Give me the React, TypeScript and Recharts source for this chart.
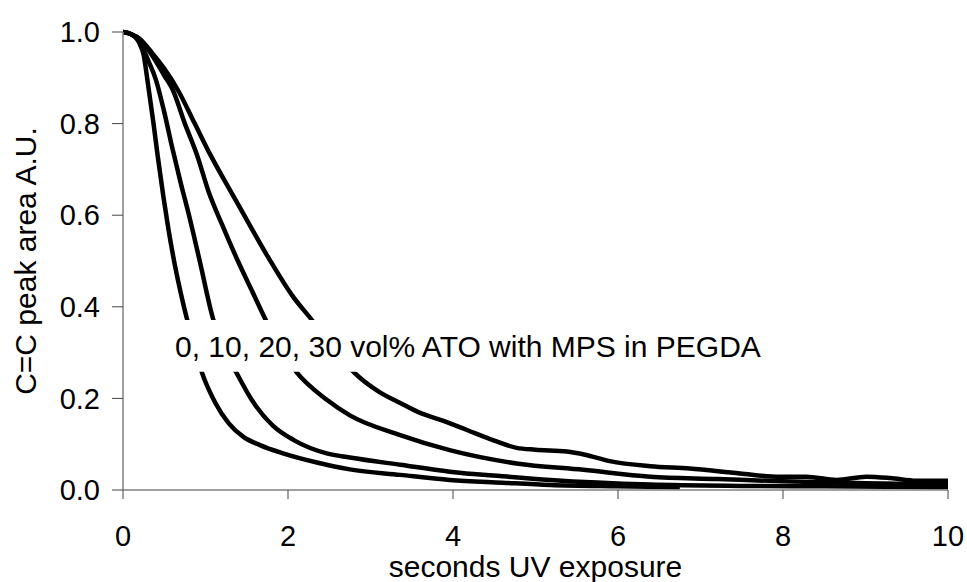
import { LineChart, Line, XAxis, YAxis, ReferenceArea } from 'recharts';

// seconds of UV exposure vs normalised C=C peak area, one array per ATO loading
const atoLoadings = ['0 vol%', '10 vol%', '20 vol%', '30 vol%'];

const curve0 = [
  { x: 0, y: 1.0 }, { x: 0.1, y: 0.995 }, { x: 0.2, y: 0.975 }, { x: 0.25, y: 0.95 },
  { x: 0.3, y: 0.89 }, { x: 0.37, y: 0.8 }, { x: 0.42, y: 0.73 }, { x: 0.49, y: 0.64 },
  { x: 0.55, y: 0.57 }, { x: 0.63, y: 0.49 }, { x: 0.7, y: 0.43 }, { x: 0.78, y: 0.37 },
  { x: 0.87, y: 0.31 }, { x: 0.95, y: 0.26 }, { x: 1.12, y: 0.19 }, { x: 1.28, y: 0.146 },
  { x: 1.46, y: 0.116 }, { x: 1.66, y: 0.098 }, { x: 1.94, y: 0.08 }, { x: 2.35, y: 0.06 },
  { x: 2.75, y: 0.045 }, { x: 3.36, y: 0.033 }, { x: 3.96, y: 0.022 }, { x: 4.6, y: 0.016 },
  { x: 5.18, y: 0.011 }, { x: 6.0, y: 0.008 }, { x: 6.75, y: 0.006 },
];

const curve10 = [
  { x: 0, y: 1.0 }, { x: 0.1, y: 0.995 }, { x: 0.2, y: 0.98 }, { x: 0.3, y: 0.94 },
  { x: 0.4, y: 0.895 }, { x: 0.5, y: 0.825 }, { x: 0.6, y: 0.745 }, { x: 0.7, y: 0.67 },
  { x: 0.8, y: 0.6 }, { x: 0.93, y: 0.5 }, { x: 1.09, y: 0.375 }, { x: 1.22, y: 0.31 },
  { x: 1.37, y: 0.258 }, { x: 1.56, y: 0.197 }, { x: 1.82, y: 0.14 }, { x: 2.07, y: 0.109 },
  { x: 2.47, y: 0.08 }, { x: 2.75, y: 0.071 }, { x: 3.36, y: 0.055 }, { x: 3.96, y: 0.04 },
  { x: 4.6, y: 0.03 }, { x: 5.18, y: 0.022 }, { x: 6.39, y: 0.012 }, { x: 7.5, y: 0.009 },
  { x: 8.5, y: 0.008 }, { x: 10, y: 0.006 },
];

const curve20 = [
  { x: 0, y: 1.0 }, { x: 0.1, y: 0.995 }, { x: 0.2, y: 0.985 }, { x: 0.35, y: 0.95 },
  { x: 0.5, y: 0.905 }, { x: 0.6, y: 0.875 }, { x: 0.75, y: 0.8 }, { x: 0.9, y: 0.73 },
  { x: 1.04, y: 0.65 }, { x: 1.2, y: 0.58 }, { x: 1.38, y: 0.505 }, { x: 1.55, y: 0.44 },
  { x: 1.72, y: 0.375 }, { x: 1.9, y: 0.31 }, { x: 2.1, y: 0.258 }, { x: 2.47, y: 0.197 },
  { x: 2.75, y: 0.163 }, { x: 3.36, y: 0.12 }, { x: 3.96, y: 0.087 },
  { x: 4.77, y: 0.058 }, { x: 5.58, y: 0.044 }, { x: 6.39, y: 0.029 }, { x: 7.2, y: 0.024 },
  { x: 8, y: 0.019 }, { x: 9, y: 0.015 }, { x: 10, y: 0.012 },
];

const curve30 = [
  { x: 0, y: 1.0 }, { x: 0.1, y: 0.995 }, { x: 0.2, y: 0.985 }, { x: 0.35, y: 0.955 },
  { x: 0.5, y: 0.92 }, { x: 0.66, y: 0.875 }, { x: 0.87, y: 0.8 }, { x: 1.05, y: 0.735 },
  { x: 1.28, y: 0.66 }, { x: 1.5, y: 0.59 }, { x: 1.78, y: 0.502 }, { x: 2.05, y: 0.425 },
  { x: 2.29, y: 0.371 }, { x: 2.55, y: 0.31 }, { x: 2.8, y: 0.257 }, { x: 3.1, y: 0.215 },
  { x: 3.36, y: 0.19 }, { x: 3.58, y: 0.17 }, { x: 3.9, y: 0.15 }, { x: 4.17, y: 0.131 },
  { x: 4.5, y: 0.108 }, { x: 4.77, y: 0.092 }, { x: 5.0, y: 0.088 }, { x: 5.38, y: 0.084 },
  { x: 5.6, y: 0.077 }, { x: 5.9, y: 0.063 }, { x: 6.39, y: 0.052 }, { x: 6.87, y: 0.047 },
  { x: 7.48, y: 0.036 }, { x: 7.96, y: 0.029 }, { x: 8.28, y: 0.029 }, { x: 8.65, y: 0.022 },
  { x: 9.01, y: 0.029 }, { x: 9.3, y: 0.026 }, { x: 9.62, y: 0.02 }, { x: 10, y: 0.02 },
];

const curves = [curve0, curve10, curve20, curve30];

const xTicks = [0, 2, 4, 6, 8, 10];
const yTicks = [0, 0.2, 0.4, 0.6, 0.8, 1.0];

const FONT = '"Liberation Sans", Arial, sans-serif';

function YTitle({ viewBox }: any) {
  const cy = viewBox.y + viewBox.height / 2;
  return (
    <text
      x={25}
      y={cy}
      transform={`rotate(-90 25 ${cy})`}
      textAnchor="middle"
      dominantBaseline="central"
      fontSize={30}
      fill="#000"
      fontFamily={FONT}
    >
      C=C peak area A.U.
    </text>
  );
}

export default function App() {
  return (
    <div style={{ position: 'absolute', left: 0, top: 0, background: '#fff' }}>
      <LineChart
        width={967}
        height={582}
        margin={{ top: 32, right: 19, left: 0, bottom: 0 }}
        style={{ fontFamily: FONT }}
      >
        <XAxis
          type="number"
          dataKey="x"
          domain={[0, 10]}
          ticks={xTicks}
          allowDataOverflow
          height={92}
          tickSize={9}
          tickMargin={26}
          axisLine={{ stroke: '#808080', strokeWidth: 1.5 }}
          tickLine={{ stroke: '#444' }}
          tick={{ fontSize: 29, fill: '#000' }}
          label={{ value: 'seconds UV exposure', position: 'insideBottom', offset: 5, fontSize: 30, fill: '#000' }}
        />
        <YAxis
          type="number"
          dataKey="y"
          domain={[0, 1]}
          ticks={yTicks}
          width={123}
          tickSize={11}
          tickMargin={12}
          tickFormatter={(v) => v.toFixed(1)}
          axisLine={{ stroke: '#808080', strokeWidth: 1.5 }}
          tickLine={{ stroke: '#444' }}
          tick={{ fontSize: 29, fill: '#000' }}
          label={{ content: YTitle }}
        />
        {curves.map((c, i) => (
          <Line
            key={atoLoadings[i]}
            name={atoLoadings[i]}
            data={c}
            dataKey="y"
            type="monotone"
            stroke="#000"
            strokeWidth={4.5}
            dot={false}
            isAnimationActive={false}
          />
        ))}
        <ReferenceArea
          x1={0.57}
          x2={7.9}
          y1={0.258}
          y2={0.371}
          fill="#fff"
          fillOpacity={1}
          stroke="none"
          zIndex={1000}
          ifOverflow="visible"
          label={{
            value: '0, 10, 20, 30 vol% ATO with MPS in PEGDA',
            position: 'insideLeft',
            offset: 5,
            fontSize: 30,
            fill: '#000',
          }}
        />
      </LineChart>
    </div>
  );
}
